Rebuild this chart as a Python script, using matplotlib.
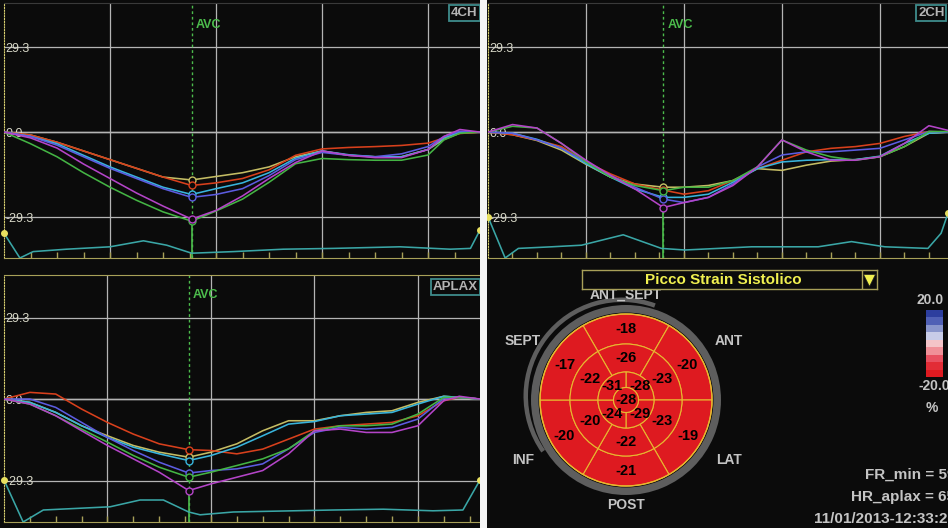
import matplotlib

matplotlib.use("Agg")

import matplotlib.pyplot as plt
import numpy as np
from matplotlib.cm import ScalarMappable
from matplotlib.colors import ListedColormap, Normalize
from matplotlib.patches import Circle, Rectangle, Wedge

FIG_W, FIG_H = 948, 528
BG = "#0b0b0b"
AXIS_YELLOW = "#a8a058"
GRID_COLOR = "#b4b4b4"
AVC_GREEN = "#4cbc4c"
ECG_COLOR = "#3aa6a6"
LABEL_GRAY = "#c4c4c4"

CURVE_ORDER = ["olive", "red", "cyan", "blue", "green", "magenta"]
CURVE_COLORS = {
    "red": "#d8401c",
    "olive": "#c4bc64",
    "blue": "#5c5ce0",
    "cyan": "#38b4dc",
    "magenta": "#b444c8",
    "green": "#44b444",
}

STRAIN_TICKS = [29.3, 0.0, -29.3]
STRAIN_TICK_LABELS = ["29.3", "0.0", "-29.3"]

# --- 4CH: strain (%) vs time (ms)
T_4CH = [0, 50, 100, 150, 200, 250, 300, 354, 400, 450, 500, 550, 600, 650, 700, 750, 800, 830, 860, 898]
RED_4CH = [0, -1.0, -3.5, -6.5, -9.5, -12.5, -15.5, -18.4, -17.5, -16.0, -13.0, -8.0, -5.8, -5.3, -5.0, -4.6, -3.8, -2.0, -0.5, 0]
OLIVE_4CH = [0, -1.0, -3.5, -6.5, -9.5, -12.5, -15.5, -16.5, -15.3, -14.0, -12.0, -8.5, -6.5, -8.0, -8.5, -8.5, -6.0, -2.5, -0.3, 0]
BLUE_4CH = [0, -1.5, -4.5, -8.5, -12.5, -16.0, -19.5, -22.5, -21.5, -19.5, -15.0, -9.5, -7.0, -8.0, -8.5, -7.5, -5.0, -1.5, 0.3, 0]
CYAN_4CH = [0, -1.5, -4.0, -8.0, -12.0, -15.5, -19.0, -21.5, -19.5, -17.5, -14.0, -9.0, -6.5, -7.8, -8.5, -8.5, -6.0, -2.0, 0, 0]
MAGENTA_4CH = [0, -2.0, -5.5, -11.0, -16.0, -21.0, -25.5, -30.0, -27.0, -22.0, -16.0, -10.5, -6.5, -8.0, -8.8, -8.8, -6.0, -1.5, 0.9, 0]
GREEN_4CH = [0, -4.0, -8.5, -14.0, -19.0, -23.5, -27.5, -30.7, -27.2, -23.1, -17.3, -10.9, -9.1, -9.5, -9.7, -9.7, -7.9, -2.7, -0.4, 0]
ECG_T_4CH = [0, 30, 55, 118, 200, 263, 307, 354, 433, 527, 621, 747, 842, 880, 898]
ECG_4CH = [0.42, -0.2, -0.04, 0.02, 0.08, 0.23, 0.12, -0.08, -0.04, 0.02, 0.04, 0.08, 0.02, 0.04, 0.5]

# --- 2CH
T_2CH = [0, 50, 100, 150, 200, 250, 300, 358, 400, 450, 500, 550, 600, 650, 700, 750, 800, 850, 900, 939]
RED_2CH = [0, -0.9, -2.7, -5.0, -10.3, -14.4, -17.9, -20.0, -21.4, -20.2, -16.7, -12.6, -9.7, -6.8, -5.6, -5.0, -3.9, -1.5, 0.2, 0]
OLIVE_2CH = [0, -0.9, -2.9, -6.2, -11.1, -15.5, -17.9, -19.0, -19.0, -18.4, -16.7, -12.6, -13.2, -11.4, -10.0, -9.5, -8.5, -5.0, -0.4, 0]
BLUE_2CH = [0, -0.4, -2.7, -5.6, -10.3, -14.9, -19.0, -23.1, -24.3, -22.5, -17.9, -12.0, -7.9, -6.8, -6.8, -6.2, -5.6, -2.7, 0.2, 0]
CYAN_2CH = [0, -0.4, -2.5, -5.6, -10.9, -15.5, -19.6, -22.5, -22.5, -21.4, -17.3, -12.6, -10.3, -9.7, -9.5, -9.5, -8.3, -3.9, -0.4, 0]
MAGENTA_2CH = [0, 2.6, 1.4, -3.9, -9.7, -14.9, -19.6, -26.0, -24.3, -22.5, -18.4, -12.0, -2.7, -6.8, -9.7, -9.7, -8.5, -3.9, 2.2, 0.6]
GREEN_2CH = [0, 2.0, 1.4, -3.9, -10.3, -15.5, -18.4, -20.2, -19.0, -19.0, -16.7, -12.0, -2.7, -6.2, -8.5, -9.7, -8.5, -5.0, 0.2, 0.2]
ECG_T_2CH = [0, 35, 62, 130, 191, 276, 354, 402, 538, 674, 742, 810, 898, 925, 939]
ECG_2CH = [0.83, -0.2, 0.04, 0.08, 0.12, 0.38, 0.04, 0.0, 0.08, 0.08, 0.21, 0.08, 0.04, 0.42, 0.92]

# --- APLAX
T_APLAX = [0, 50, 100, 150, 200, 250, 300, 357, 400, 450, 500, 550, 600, 650, 700, 750, 800, 850, 880, 920]
RED_APLAX = [0, 2.4, 1.8, -3.6, -8.4, -12.6, -16.1, -18.2, -18.5, -19.7, -18.0, -14.4, -10.8, -9.6, -9.0, -8.4, -6.0, -0.6, 0.6, 0]
OLIVE_APLAX = [0, -1.2, -4.8, -9.6, -13.2, -16.7, -19.1, -20.9, -19.1, -16.1, -11.4, -7.8, -7.8, -6.0, -4.8, -4.2, -1.2, 1.0, 0.6, 0]
CYAN_APLAX = [0, -1.2, -4.8, -9.6, -13.8, -17.3, -19.7, -22.1, -20.3, -17.3, -13.2, -9.0, -8.1, -6.0, -5.4, -4.8, -1.8, 1.0, 0.6, 0]
BLUE_APLAX = [0, 0, -3.0, -8.4, -13.8, -18.5, -22.7, -26.6, -25.7, -25.1, -23.3, -17.9, -12.0, -10.2, -10.8, -10.2, -7.2, 0.2, 0.6, 0]
GREEN_APLAX = [0, -1.8, -6.0, -10.8, -15.5, -20.3, -24.5, -28.1, -26.3, -23.9, -21.5, -17.9, -11.4, -9.6, -9.6, -9.0, -5.4, 0.6, 0.6, 0]
MAGENTA_APLAX = [0, -1.8, -6.0, -11.4, -16.7, -21.5, -26.3, -32.9, -30.5, -28.1, -25.7, -19.7, -11.4, -10.8, -12.0, -12.0, -9.6, -0.6, 1.0, 0]
ECG_T_APLAX = [0, 37, 76, 205, 263, 308, 357, 379, 443, 636, 733, 829, 887, 920]
ECG_APLAX = [0.75, -0.3, 0.0, 0.08, 0.25, 0.25, -0.05, -0.12, -0.05, 0.0, 0.02, -0.02, 0.0, 0.75]

# --- bull's eye (peak systolic strain, %)
BASAL_ANGLES = [90, 30, -30, -90, -150, 150]
BASAL_VALUES = [-18, -20, -19, -21, -20, -17]
MID_VALUES = [-26, -23, -23, -22, -20, -22]
APICAL_ANGLES = [45, -45, -135, 135]
APICAL_VALUES = [-28, -29, -24, -31]
APEX_VALUE = -28
WALL_NAMES = ["ANT_SEPT", "ANT", "LAT", "POST", "INF", "SEPT"]

SCALE_COLORS = ["#de1a20", "#e22c36", "#e85060", "#f09098", "#f4c4c8",
                "#c8cce8", "#8a96cc", "#5060b5", "#2d3e9e"]
SCALE_MIN, SCALE_MAX = -20.0, 20.0

INFO_LINES = ["FR_min = 59", "HR_aplax = 65", "11/01/2013-12:33:20"]


def px_rect(x0, y0, x1, y1):
    return [x0 / FIG_W, 1 - y1 / FIG_H, (x1 - x0) / FIG_W, (y1 - y0) / FIG_H]


def draw_strain_panel(fig, rect, cfg):
    ax = fig.add_axes(px_rect(*rect))
    ax.set_facecolor(BG)
    ax.set_xlim(0, cfg["xmax"])
    ax.set_ylim(*cfg["ylim"])

    ax.set_xticks(np.arange(200, cfg["xmax"], 200))
    ax.set_xticks(np.arange(50, cfg["xmax"], 50), minor=True)
    ax.set_xticklabels([])
    ax.tick_params(axis="x", which="both", direction="in", length=4, width=1, color=AXIS_YELLOW)
    ax.set_yticks(STRAIN_TICKS)
    ax.set_yticklabels(STRAIN_TICK_LABELS)
    ax.tick_params(axis="y", length=0, pad=-1, labelcolor="#d8d8c8", labelsize=9)
    for lbl in ax.get_yticklabels():
        lbl.set_horizontalalignment("left")
    ax.grid(True, color=GRID_COLOR, linewidth=0.9)
    ax.axhline(0, color="#e4e4e4", linewidth=1.0, zorder=1.5)

    ax.spines["left"].set_linestyle((0, (1, 1.5)))
    ax.spines["left"].set_color("#d8d070")
    ax.spines["bottom"].set_color(AXIS_YELLOW)
    ax.spines["top"].set_color(cfg["top_color"])
    ax.spines["right"].set_visible(False)

    t = cfg["t"]
    avc_idx = t.index(cfg["avc"])
    lows = []
    for name in CURVE_ORDER:
        vals = cfg["curves"][name]
        ax.plot(t, vals, color=CURVE_COLORS[name], linewidth=1.15, zorder=3)
        ax.plot(t[avc_idx], vals[avc_idx], "o", ms=5, mfc=BG, mec=CURVE_COLORS[name], mew=1, zorder=4)
        lows.append(vals[avc_idx])

    ax.axvline(cfg["avc"], color=AVC_GREEN, linewidth=1, linestyle=(0, (2, 2)), zorder=2)
    ax.vlines(cfg["avc"], cfg["ylim"][0], min(lows), color=AVC_GREEN, linewidth=1.2, zorder=2)
    ax.annotate("AVC", xy=(cfg["avc"], cfg["avc_y"]), xycoords=("data", "axes fraction"),
                xytext=(3, 0), textcoords="offset points", ha="left", va="center",
                color=AVC_GREEN, fontsize=9, fontweight="bold")

    ax.text(cfg["label_x"], cfg["label_y"], cfg["label"], transform=ax.transAxes,
            ha=cfg["label_ha"], va="top", color="#b4b4b4", fontsize=9.5, fontweight="bold",
            bbox={"boxstyle": "square,pad=0.15", "fc": BG, "ec": "#3e8c8c", "lw": 1.3}, zorder=10)

    ecg_ax = ax.twinx()
    ecg_ax.set_ylim(*cfg["ecg_ylim"])
    ecg_ax.plot(cfg["ecg_t"], cfg["ecg"], color=ECG_COLOR, linewidth=1.15)
    ecg_ax.plot([cfg["ecg_t"][0], cfg["ecg_t"][-1]], [cfg["ecg"][0], cfg["ecg"][-1]], "o",
                color="#e8e060", ms=4, clip_on=False)
    ecg_ax.set_yticks([])
    for spine in ecg_ax.spines.values():
        spine.set_visible(False)
    return ax


def draw_bullseye(fig, cmap, norm):
    ax = fig.add_axes(px_rect(506, 280, 746, 520))
    ax.set_xlim(-120, 120)
    ax.set_ylim(-120, 120)
    ax.set_aspect("equal")
    ax.axis("off")

    ring_gray = "#5e5e5e"
    ax.add_patch(Wedge((0, 0), 95, 0, 360, width=7.5, fc=ring_gray, ec="none"))
    ax.add_patch(Wedge((-4, 4), 98.5, 70, 215, width=4.5, fc=ring_gray, ec="none"))

    seg_edge = {"ec": "#e8b830", "lw": 0.8}
    num_style = {"ha": "center", "va": "center", "fontsize": 10.5, "fontweight": "bold",
                 "color": "black", "zorder": 5}
    r_apex, r_apical, r_mid, r_basal = 12.5, 28, 56, 86
    for ang, val in zip(BASAL_ANGLES, BASAL_VALUES):
        ax.add_patch(Wedge((0, 0), r_basal, ang - 30, ang + 30, width=r_basal - r_mid, fc=cmap(norm(val)), **seg_edge))
        a = np.deg2rad(ang)
        ax.text(71 * np.cos(a), 71 * np.sin(a), f"{val}", **num_style)
    for ang, val in zip(BASAL_ANGLES, MID_VALUES):
        ax.add_patch(Wedge((0, 0), r_mid, ang - 30, ang + 30, width=r_mid - r_apical, fc=cmap(norm(val)), **seg_edge))
        a = np.deg2rad(ang)
        ax.text(42 * np.cos(a), 42 * np.sin(a), f"{val}", **num_style)
    for ang, val in zip(APICAL_ANGLES, APICAL_VALUES):
        ax.add_patch(Wedge((0, 0), r_apical, ang - 45, ang + 45, width=r_apical - r_apex, fc=cmap(norm(val)), **seg_edge))
        a = np.deg2rad(ang)
        ax.text(19.5 * np.cos(a), 19.5 * np.sin(a), f"{val}", **num_style)
    ax.add_patch(Circle((0, 0), r_apex, fc=cmap(norm(APEX_VALUE)), **seg_edge))
    ax.text(0, 0, f"{APEX_VALUE}", **num_style)
    ax.add_patch(Circle((0, 0), r_basal, fc="none", ec="#e8b830", lw=1))

    for ang, name in zip(BASAL_ANGLES, WALL_NAMES):
        a = np.deg2rad(ang)
        r = 105 if abs(np.cos(a)) < 0.1 else 119
        ax.text(r * np.cos(a), r * np.sin(a), name, ha="center", va="center",
                fontsize=10, fontweight="bold", color=LABEL_GRAY, zorder=6)


def draw_title_box(fig):
    ax = fig.add_axes(px_rect(582, 270, 877, 289))
    ax.set_facecolor(BG)
    ax.set_xlim(0, 1)
    ax.set_ylim(0, 1)
    ax.set_xticks([])
    ax.set_yticks([])
    for spine in ax.spines.values():
        spine.set_color(AXIS_YELLOW)
        spine.set_linewidth(1)
    ax.text(0.48, 0.5, "Picco Strain Sistolico", ha="center", va="center",
            color="#f0f050", fontsize=11, fontweight="bold")
    ax.axvline(0.949, color=AXIS_YELLOW, linewidth=1)
    ax.plot(0.974, 0.5, marker="v", ms=8, color="#f0f050", mec="#202020", mew=0.5)


def draw_scale(fig, cmap, norm):
    cax = fig.add_axes(px_rect(926, 310, 943, 377))
    cb = fig.colorbar(ScalarMappable(norm=norm, cmap=cmap), cax=cax)
    cb.outline.set_visible(False)
    cax.set_yticks([])
    text_style = {"ha": "center", "va": "center", "color": LABEL_GRAY, "fontsize": 10, "fontweight": "bold"}
    fig.text(930 / FIG_W, 1 - 300 / FIG_H, f"{SCALE_MAX:.1f}", **text_style)
    fig.text(934 / FIG_W, 1 - 386 / FIG_H, f"{SCALE_MIN:.1f}", **text_style)
    fig.text(932 / FIG_W, 1 - 408 / FIG_H, "%", **text_style)


def main():
    plt.rcParams["font.family"] = ["Liberation Sans", "DejaVu Sans"]
    fig = plt.figure(figsize=(FIG_W / 100, FIG_H / 100), dpi=100, facecolor=BG)

    panel_4ch = {
        "t": T_4CH, "avc": 354, "xmax": 898, "ylim": (-43.4, 44.5), "top_color": "#3a3a3a",
        "curves": {"red": RED_4CH, "olive": OLIVE_4CH, "blue": BLUE_4CH,
                   "cyan": CYAN_4CH, "magenta": MAGENTA_4CH, "green": GREEN_4CH},
        "ecg_t": ECG_T_4CH, "ecg": ECG_4CH, "ecg_ylim": (-0.2, 6.175),
        "label": "4CH", "label_x": 0.995, "label_y": 0.985, "label_ha": "right", "avc_y": 0.914,
    }
    panel_2ch = {
        "t": T_2CH, "avc": 358, "xmax": 939, "ylim": (-43.4, 44.5), "top_color": "#3a3a3a",
        "curves": {"red": RED_2CH, "olive": OLIVE_2CH, "blue": BLUE_2CH,
                   "cyan": CYAN_2CH, "magenta": MAGENTA_2CH, "green": GREEN_2CH},
        "ecg_t": ECG_T_2CH, "ecg": ECG_2CH, "ecg_ylim": (-0.2, 6.175),
        "label": "2CH", "label_x": 0.935, "label_y": 0.985, "label_ha": "left", "avc_y": 0.914,
    }
    panel_aplax = {
        "t": T_APLAX, "avc": 357, "xmax": 920, "ylim": (-44.2, 44.6), "top_color": AXIS_YELLOW,
        "curves": {"red": RED_APLAX, "olive": OLIVE_APLAX, "blue": BLUE_APLAX,
                   "cyan": CYAN_APLAX, "magenta": MAGENTA_APLAX, "green": GREEN_APLAX},
        "ecg_t": ECG_T_APLAX, "ecg": ECG_APLAX, "ecg_ylim": (-0.3, 5.875),
        "label": "APLAX", "label_x": 0.995, "label_y": 0.975, "label_ha": "right", "avc_y": 0.919,
    }

    draw_strain_panel(fig, (4, 3, 480, 258), panel_4ch)
    draw_strain_panel(fig, (488, 3, 948, 258), panel_2ch)
    draw_strain_panel(fig, (4, 275, 480, 522), panel_aplax)

    fig.add_artist(Rectangle((480 / FIG_W, 0), 7 / FIG_W, 1, transform=fig.transFigure,
                             fc="#f4f4f4", ec="none"))

    cmap = ListedColormap(SCALE_COLORS)
    norm = Normalize(SCALE_MIN, SCALE_MAX)
    draw_bullseye(fig, cmap, norm)
    draw_title_box(fig)
    draw_scale(fig, cmap, norm)

    for (x, y), line in zip([(865, 475), (851, 497), (814, 519)], INFO_LINES):
        fig.text(x / FIG_W, 1 - y / FIG_H, line, ha="left", va="center",
                 color=LABEL_GRAY, fontsize=11, fontweight="bold")

    fig.savefig("out.png", dpi=100, facecolor=BG)
    plt.close(fig)


if __name__ == "__main__":
    main()
